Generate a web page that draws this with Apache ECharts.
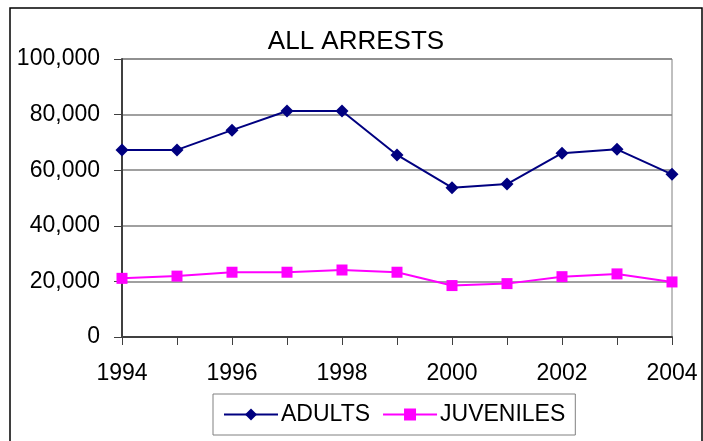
<!DOCTYPE html>
<html>
<head>
<meta charset="utf-8">
<script src="https://cdn.jsdelivr.net/npm/echarts@6/dist/echarts.min.js"></script>
<style>
  html, body { margin: 0; padding: 0; background: #ffffff; }
  #chart { width: 703px; height: 441px; }
</style>
</head>
<body>
<div id="chart"></div>
<script>
// Yearly arrest counts
var years = ['1994', '1995', '1996', '1997', '1998', '1999', '2000', '2001', '2002', '2003', '2004'];
var adults = [67300, 67300, 74400, 81300, 81300, 65500, 53700, 55000, 66100, 67500, 58500];
var juveniles = [21100, 21900, 23300, 23300, 24100, 23300, 18500, 19200, 21700, 22700, 19800];
var yTicks = { min: 0, max: 100000, interval: 20000 };

var FONT = '"Liberation Sans", Arial, sans-serif';

var chart = echarts.init(document.getElementById('chart'), null, { renderer: 'canvas' });

chart.setOption({
  backgroundColor: '#ffffff',
  animation: false,
  textStyle: { fontFamily: FONT, color: '#000000' },
  title: {
    text: 'ALL ARRESTS',
    left: 356,
    textAlign: 'center',
    top: 29,
    padding: 0,
    textStyle: { fontFamily: FONT, fontSize: 26, fontWeight: 'normal', color: '#000000' }
  },
  grid: {
    left: 122, top: 59, right: 31, bottom: 104,
    show: true, borderColor: '#808080', borderWidth: 1, backgroundColor: '#ffffff'
  },
  legend: {
    left: 213, top: 394,
    padding: [9, 10, 9, 10],
    itemGap: 12,
    itemWidth: 54,
    itemHeight: 15,
    borderColor: '#808080',
    borderWidth: 1,
    textStyle: { fontFamily: FONT, fontSize: 23, color: '#000000', padding: [0, 0, 0, -2] },
    data: ['ADULTS', 'JUVENILES']
  },
  xAxis: {
    type: 'category',
    data: years,
    boundaryGap: false,
    axisLine: { lineStyle: { color: '#404040', width: 2 } },
    axisTick: { show: true, interval: 0, length: 8, lineStyle: { color: '#404040', width: 1 } },
    axisLabel: { interval: 1, margin: 25, fontSize: 23, fontFamily: FONT, color: '#000000' },
    splitLine: { show: false }
  },
  yAxis: {
    type: 'value',
    min: yTicks.min, max: yTicks.max, interval: yTicks.interval,
    axisLine: { show: true, lineStyle: { color: '#404040', width: 2 } },
    axisTick: { show: true, length: 8, lineStyle: { color: '#404040', width: 1 } },
    axisLabel: {
      margin: 22, fontSize: 23, fontFamily: FONT, color: '#000000',
      formatter: function (v) { return v.toLocaleString('en-US'); }
    },
    splitLine: { lineStyle: { color: '#808080', width: 1.5 } }
  },
  graphic: [{
    type: 'rect',
    shape: { x: 10, y: 8, width: 692, height: 440 },
    style: { fill: 'none', stroke: '#000000', lineWidth: 1.5 },
    silent: true, z: 100
  }],
  series: [
    {
      name: 'ADULTS',
      type: 'line',
      data: adults,
      symbol: 'diamond',
      symbolSize: 13,
      itemStyle: { color: '#000080' },
      lineStyle: { color: '#000080', width: 2 }
    },
    {
      name: 'JUVENILES',
      type: 'line',
      data: juveniles,
      symbol: 'rect',
      symbolSize: 11,
      itemStyle: { color: '#ff00ff' },
      lineStyle: { color: '#ff00ff', width: 2 }
    }
  ]
});
</script>
</body>
</html>
